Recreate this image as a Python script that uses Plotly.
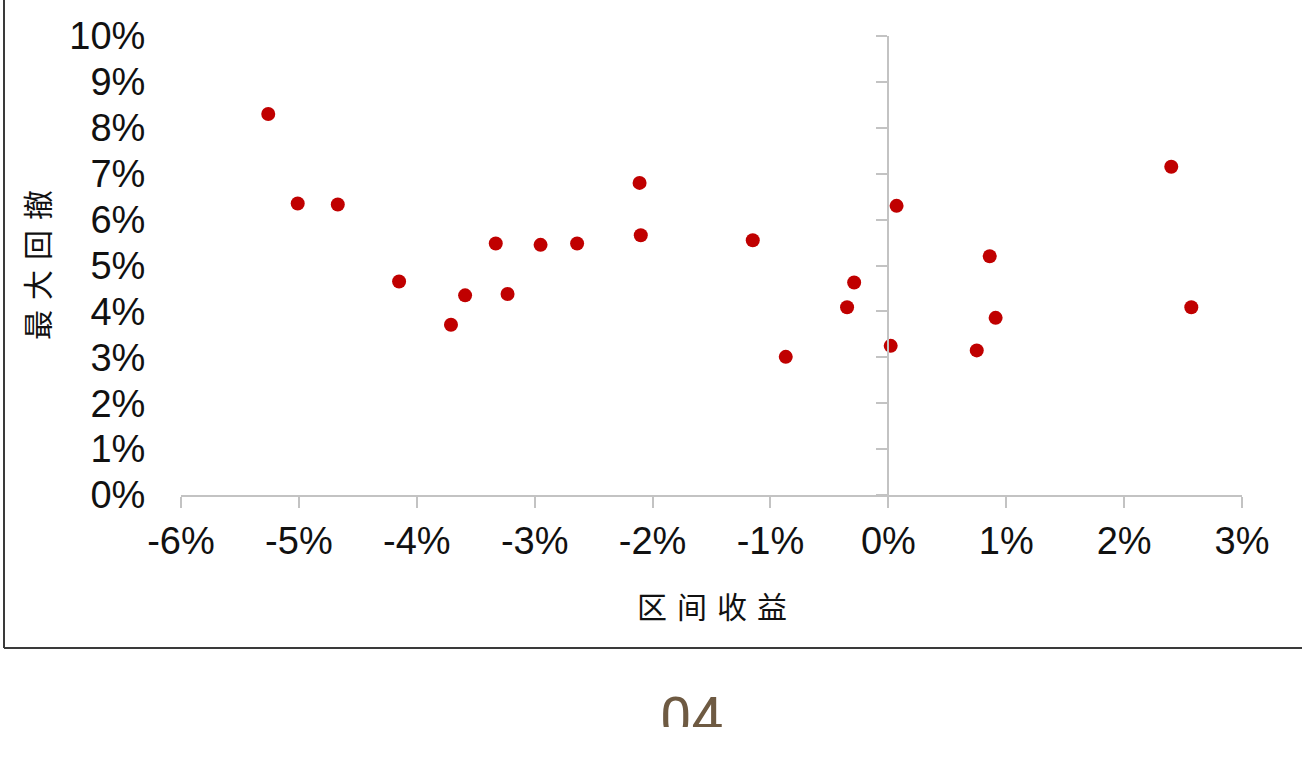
import plotly.graph_objects as go

# 区间收益 (x, %) and 最大回撤 (y, %)
returns = [-5.26, -5.01, -4.67, -4.15, -3.71, -3.59, -3.33, -3.23, -2.95, -2.64,
           -2.11, -2.10, -1.15, -0.87, -0.35, -0.29, 0.02, 0.07, 0.75, 0.86,
           0.91, 2.40, 2.57]
drawdowns = [8.30, 6.35, 6.33, 4.65, 3.71, 4.35, 5.48, 4.38, 5.45, 5.48,
             6.80, 5.66, 5.55, 3.01, 4.09, 4.63, 3.25, 6.30, 3.15, 5.20,
             3.86, 7.15, 4.09]
x_ticks = [-6, -5, -4, -3, -2, -1, 0, 1, 2, 3]
y_ticks = [0, 1, 2, 3, 4, 5, 6, 7, 8, 9, 10]
x_tick_labels = ["-6%", "-5%", "-4%", "-3%", "-2%", "-1%", "0%", "1%", "2%", "3%"]
y_tick_labels = ["0%", "1%", "2%", "3%", "4%", "5%", "6%", "7%", "8%", "9%", "10%"]
x_title = "区间收益"
y_title = "最大回撤"
page_label = "04"

xv = [v / 100 for v in returns]
yv = [v / 100 for v in drawdowns]
xt = [v / 100 for v in x_ticks]
yt = [v / 100 for v in y_ticks]

AX = "#c3c3c3"
TICKFONT = dict(family="Liberation Sans, Arial, sans-serif", size=38, color="#111111")
CJK = "Noto Sans CJK SC"
SP = "\u2004"

L, T = 181, 36
PW, PH = 1061, 459
W, H = 1302, 771
R = W - L - PW
B = H - T - PH

fig = go.Figure()
fig.add_trace(go.Scatter(x=xv, y=yv, mode="markers",
                         marker=dict(color="#c00000", size=14, line=dict(width=0)),
                         hoverinfo="skip", showlegend=False))
# invisible copy to activate the y axis drawn at x = 0
fig.add_trace(go.Scatter(x=xv, y=yv, mode="markers", yaxis="y2",
                         marker=dict(opacity=0), hoverinfo="skip", showlegend=False))

xmin, xmax = xt[0], xt[-1]
zero_pos = (0 - xmin) / (xmax - xmin)

fig.update_layout(
    width=W, height=H,
    margin=dict(l=L, r=R, t=T, b=B),
    paper_bgcolor="white", plot_bgcolor="white",
    xaxis=dict(range=[xmin, xmax], tickvals=xt, ticktext=x_tick_labels,
               showgrid=False, zeroline=False, showline=True, linecolor=AX, linewidth=2,
               ticks="outside", ticklen=11, tickwidth=2, tickcolor=AX,
               tickfont=TICKFONT, fixedrange=True),
    yaxis=dict(range=[yt[0], yt[-1]], tickvals=yt, ticktext=y_tick_labels,
               showgrid=False, zeroline=False, showline=False,
               ticks="outside", ticklen=27, tickcolor="rgba(0,0,0,0)",
               tickfont=TICKFONT, fixedrange=True),
    yaxis2=dict(range=[yt[0], yt[-1]], tickvals=yt, overlaying="y", anchor="free",
                position=zero_pos, side="left",
                showgrid=False, zeroline=False, showline=True, linecolor=AX, linewidth=2,
                ticks="outside", ticklen=11, tickwidth=2, tickcolor=AX,
                showticklabels=False, fixedrange=True),
    font=dict(family=CJK),
)


def px_to_paper_x(px):
    return (px - L) / PW


def px_to_paper_y(py):
    return (T + PH - py) / PH


# outer frame (left and bottom edges visible)
fx = px_to_paper_x(4)
fy = px_to_paper_y(648)
fig.add_shape(type="line", xref="paper", yref="paper", x0=fx, x1=fx,
              y0=fy, y1=px_to_paper_y(-20), line=dict(color="#3a3a3a", width=2))
fig.add_shape(type="line", xref="paper", yref="paper", x0=fx, x1=px_to_paper_x(1330),
              y0=fy, y1=fy, line=dict(color="#3a3a3a", width=2))

fig.add_annotation(text=SP.join(x_title), xref="paper", yref="paper",
                   x=px_to_paper_x(712), y=px_to_paper_y(605), xanchor="center", yanchor="middle",
                   showarrow=False, font=dict(family=CJK, size=30, color="#111111"))
fig.add_annotation(text=SP.join(y_title), xref="paper", yref="paper", textangle=-90,
                   x=px_to_paper_x(36), y=px_to_paper_y(265), xanchor="center", yanchor="middle",
                   showarrow=False, font=dict(family=CJK, size=30, color="#111111"))
fig.add_annotation(text=page_label, xref="paper", yref="paper",
                   x=px_to_paper_x(691), y=px_to_paper_y(718), xanchor="center", yanchor="middle",
                   showarrow=False, font=dict(family="Roboto, Arial, sans-serif", size=56, color="#6e5a42"))
# white cover that clips the lower part of the page label
fig.add_annotation(text=" ", xref="paper", yref="paper",
                   x=px_to_paper_x(691), y=px_to_paper_y(727), xanchor="center", yanchor="top",
                   width=220, height=60, bgcolor="white", borderpad=0, borderwidth=0,
                   showarrow=False, font=dict(size=10))

fig.write_html("out.html",
               config={"displayModeBar": False, "staticPlot": True},
               post_script="document.body.style.margin='0';document.body.style.overflow='hidden';")
